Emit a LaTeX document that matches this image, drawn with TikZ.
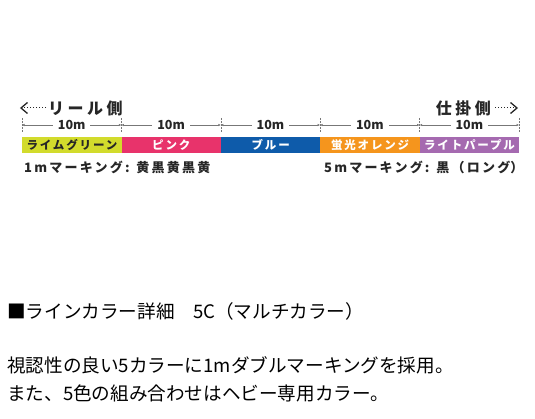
\documentclass[tikz,border=0pt]{standalone}
\usepackage{fontspec}
\newfontfamily\jp{Noto Sans CJK JP}
\usetikzlibrary{arrows.meta}
\definecolor{clime}{HTML}{D2DB2C}
\definecolor{cpink}{HTML}{E8336B}
\definecolor{cblue}{HTML}{0E5BAA}
\definecolor{corange}{HTML}{F5951D}
\definecolor{cpurple}{HTML}{A56AB0}
\definecolor{cdim}{HTML}{777777}
\newcommand{\halfw}[1]{{\addfontfeature{RawFeature=+halt}#1}}
\begin{document}
\begin{tikzpicture}[x=1pt,y=-1pt,
  seg/.style={minimum width=99.4pt, minimum height=16pt, inner sep=0pt, anchor=north west,
    font=\jp\bfseries\fontsize{11.5}{12}\selectfont\addfontfeature{LetterSpace=16}},
  dim/.style={draw=cdim, line width=0.5pt, {Latex[length=2.5pt,width=2.5pt]}-{Latex[length=2.5pt,width=2.5pt]}},
  dimlab/.style={fill=white, inner xsep=5pt, inner ysep=0pt, text=black!85,
    font=\jp\bfseries\fontsize{12.5}{13}\selectfont},
  tickmark/.style={draw=cdim, densely dotted, line width=0.5pt},
  head/.style={inner sep=0pt, font=\jp\bfseries\fontsize{16}{17}\selectfont\addfontfeature{LetterSpace=22}, text=black!85},
  marknote/.style={inner sep=0pt, font=\jp\bfseries\fontsize{13}{14}\selectfont\addfontfeature{LetterSpace=17}, text=black!85},
  body/.style={inner sep=0pt, anchor=west, font=\jp\fontsize{18.6}{20}\selectfont},
  dotarrow/.style={draw=black!85, line width=1pt, dash pattern=on 1.2pt off 1.8pt},
  chev/.style={draw=black!85, line width=1.3pt}]
\useasboundingbox (0,0) rectangle (535,419);

% direction labels
\node[head, anchor=west] (reel) at (48,108) {リール側};
\coordinate (la) at (21,108);
\draw[dotarrow] (reel.west) ++(-2,0) -- (la);
\draw[chev] (27.5,102.5) -- (la) -- (27.5,113.5);

\node[head, anchor=east] (shikake) at (491,108) {仕掛側};
\coordinate (ra) at (517,108);
\draw[dotarrow] (shikake.east) ++(4,0) -- (ra);
\draw[chev] (510.5,102.5) -- (ra) -- (510.5,113.5);

% boundaries
\foreach \i/\x in {0/22,1/121.4,2/220.8,3/320.2,4/419.6,5/519}{
  \coordinate (b\i) at (\x,125);
  \draw[tickmark] (\x,118) -- (\x,133);
}
\draw[dim] (b0) -- node[dimlab]{10m} (b1);
\draw[dim] (b1) -- node[dimlab]{10m} (b2);
\draw[dim] (b2) -- node[dimlab]{10m} (b3);
\draw[dim] (b3) -- node[dimlab]{10m} (b4);
\draw[dim] (b4) -- node[dimlab]{10m} (b5);

% color segments
\node[seg, fill=clime, text=black!85] (s1) at (22,137) {ライムグリーン};
\node[seg, fill=cpink, text=white] (s2) at (121.4,137) {ピンク};
\node[seg, fill=cblue, text=white] (s3) at (220.8,137) {ブルー};
\node[seg, fill=corange, text=white] (s4) at (320.2,137) {蛍光オレンジ};
\node[seg, fill=cpurple, text=white] (s5) at (419.6,137) {ライトパープル};

% marking notes
\node[marknote, anchor=west] (m1) at (24,167) {1mマーキング: 黄黒黄黒黄};
\node[marknote, anchor=east] (m5) at (517,167) {5mマーキング: 黒（ロング\halfw{）}};

% body text
\node[body] (t1) at (7,311) {■ラインカラー詳細　5C（マルチカラー）};
\node[body] (t2) at (7,365) {視認性の良い5カラーに1mダブルマーキングを採用。};
\node[body] (t3) at (7,393) {また、5色の組み合わせはヘビー専用カラー。};
\end{tikzpicture}
\end{document}
